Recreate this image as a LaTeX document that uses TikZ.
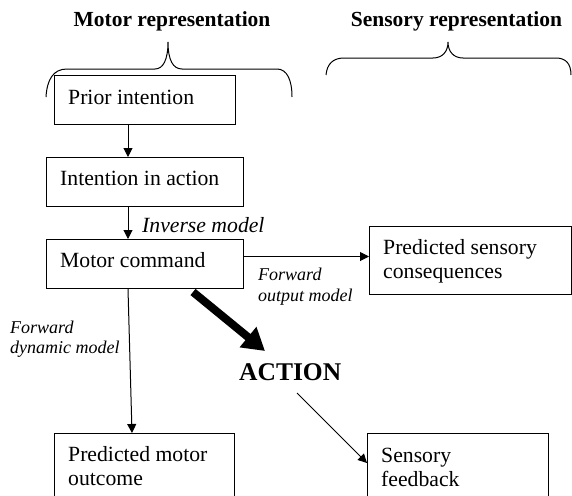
\documentclass[tikz,border=0pt]{standalone}
\usepackage{fontspec}
\setmainfont{Liberation Serif}
\usetikzlibrary{arrows.meta,calc}
\begin{document}
\begin{tikzpicture}[x=1pt,y=-1pt,
  box/.style={draw, line width=1pt, rectangle, inner sep=0pt, anchor=north west},
  lab/.style={anchor=base west, inner sep=0pt, font=\fontsize{21.7}{26}\selectfont},
  ital/.style={anchor=base west, inner sep=0pt, font=\fontsize{18}{22}\selectfont\itshape},
  ttl/.style={anchor=base, inner sep=0pt, font=\fontsize{21.5}{26}\selectfont\bfseries},
  arr/.style={-{Triangle[length=9pt,width=9pt]}, line width=1pt},
  bigarr/.style={-{Triangle[length=22pt,width=25pt]}, line width=8pt},
  brace/.style={line width=1pt}
]
\useasboundingbox (0,0) rectangle (572,495);
\clip (0,0) rectangle (572,495);

% titles
\node[ttl] (tmotor) at (172,27) {Motor representation};
\node[ttl] (tsens) at (456.5,27) {Sensory representation};

% braces
\draw[brace] (46,97) .. controls (47,80) and (53,69) .. (67,69) -- (155,69)
  .. controls (163,69) and (168,60) .. (168,42)
  .. controls (168,60) and (173,69) .. (182,69) -- (277,69)
  .. controls (287,69) and (292,80) .. (292,97);
\draw[brace] (326,75) .. controls (327,64) and (333,58) .. (344,58) -- (433,58)
  .. controls (442,58) and (448,52) .. (448,42)
  .. controls (448,52) and (454,58) .. (463,58) -- (556,58)
  .. controls (566,58) and (571,64) .. (571,75);

% boxes
\node[box, minimum width=181pt, minimum height=49pt] (prior) at (54,75) {};
\node[box, minimum width=197pt, minimum height=49pt] (intent) at (46,157) {};
\node[box, minimum width=197pt, minimum height=49pt] (motor) at (46,239) {};
\node[box, minimum width=202pt, minimum height=68pt] (psc) at (369,226) {};
\node[box, minimum width=180pt, minimum height=80pt] (pmo) at (54,433) {};
\node[box, minimum width=181pt, minimum height=80pt] (sf) at (367,433) {};

% box texts
\node[lab] (tprior) at (68,104) {Prior intention};
\node[lab] (tintent) at (60,185.5) {Intention in action};
\node[lab] (tmotorc) at (60,267.5) {Motor command};
\node[lab] (tpsc1) at (383,254) {Predicted sensory};
\node[lab] (tpsc2) at (383,278) {consequences};
\node[lab] (tpmo1) at (68,461) {Predicted motor};
\node[lab] (tpmo2) at (68,485) {outcome};
\node[lab] (tsf1) at (381,462) {Sensory};
\node[lab] (tsf2) at (381,486) {feedback};

% labels
\node[anchor=base west, inner sep=0pt, font=\fontsize{21.7}{26}\selectfont\itshape] (inv) at (142,232) {Inverse model};
\node[ital] (fo1) at (258,280) {Forward};
\node[ital] (fo2) at (258,301) {output model};
\node[ital] (fd1) at (10,333) {Forward};
\node[ital] (fd2) at (10,353) {dynamic model};
\node[anchor=base west, inner sep=0pt, font=\fontsize{25.5}{30}\selectfont\bfseries] (action) at (239,380) {ACTION};

% helper coordinates
\coordinate (cx) at (128,0);
\coordinate (cx2) at (132,0);
\coordinate (ry) at (0,256.5);
\coordinate (tx) at (193,0);
\coordinate (tip) at (265,351);
\coordinate (as) at (297,393);
\coordinate (ey) at (0,463);

% connectors
\draw[arr] (prior.south -| cx) -- (intent.north -| cx);
\draw[arr] (intent.south -| cx) -- (motor.north -| cx);
\draw[arr] (motor.south -| cx) -- (pmo.north -| cx2);
\draw[arr] (motor.east |- ry) -- (psc.west |- ry);
\draw[bigarr] ($(motor.south -| tx)+(0,3)$) -- (tip);
\draw[arr] (as) -- (sf.west |- ey);
\end{tikzpicture}
\end{document}
